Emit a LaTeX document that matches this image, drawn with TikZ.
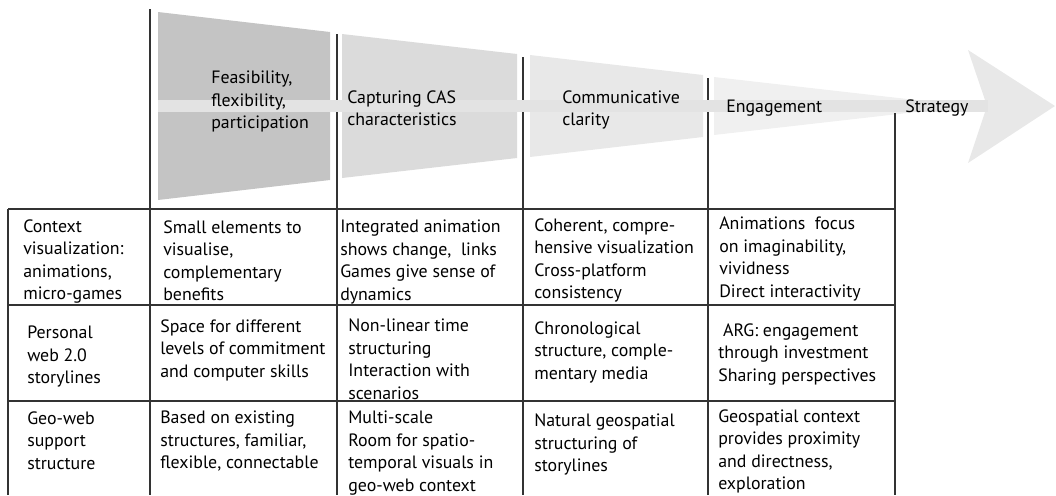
\documentclass[tikz,border=0pt]{standalone}
\usepackage{fontspec}
\setmainfont{PT Sans}
\begin{document}
\begin{tikzpicture}[x=0.025cm, y=-0.025cm,
		txt/.style={anchor=north west, align=left, inner sep=0pt, text=black,
			font=\fontsize{12.7pt}{16pt}\selectfont, execute at begin node=\strut},
		rule/.style={line width=1pt, color=black!80}]
		%%%%% START %%%%%
		\useasboundingbox (0, 0) rectangle (1056, 495);
		
		% tapering arrow, one slice per column
		\fill[black!23] (158, 12) -- (330, 32) -- (330, 180) -- (158, 200) -- cycle;
		\fill[black!14] (342, 34) -- (517, 54) -- (517, 158) -- (342, 178) -- cycle;
		\fill[black!9] (530, 55) -- (703, 75) -- (703, 137) -- (530, 157) -- cycle;
		\fill[black!6] (714, 77) -- (916, 100) -- (916, 112) -- (714, 135) -- cycle;
		\fill[black!9] (968, 50) -- (1055, 106) -- (968, 163) -- (987, 106) -- cycle;
		
		% table rules
		\draw[rule] (8, 209) -- (895, 209);
		\draw[rule] (8, 305) -- (895, 305);
		\draw[rule] (8, 401) -- (895, 401);
		\draw[rule] (8, 209) -- (8, 495);
		\draw[rule] (150, 9) -- (150, 495);
		\draw[rule] (337, 34) -- (337, 495);
		\draw[rule] (523, 57) -- (523, 495);
		\draw[rule] (708, 78) -- (708, 495);
		\draw[rule] (895, 113) -- (895, 495);
		
		% band over the rules
		\fill[black!11] (158, 100) rectangle (988, 112);
		
		% heads
		\node[txt] (feas) at (211, 71) {Feasibility,\\flexibility,\\participation};
		\node[txt] (cas) at (347, 90) {Capturing CAS\\characteristics};
		\node[txt] (clar) at (562, 90) {Communicative\\clarity};
		\node[txt] (engage) at (726, 96) {Engagement};
		\node[txt] (strat) at (905, 96) {Strategy};
		
		% row 1
		\node[txt] (ctx) at (23, 219) {Context\\visualization:\\animations,\\micro-games};
		\node[txt] (ctxfeas) at (163, 220) {Small elements to\\visualise,\\complementary\\benefits};
		\node[txt] (ctxcas) at (340, 220) {Integrated animation\\shows change,\ \ links\\Games give sense of\\dynamics};
		\node[txt] (ctxclar) at (534, 218) {Coherent, compre-\\hensive visualization\\Cross-platform\\consistency};
		\node[txt] (ctxengage) at (719, 217) {Animations\ \ focus\\on imaginability,\\vividness\\Direct interactivity};
		
		% row 2
		\node[txt] (pers) at (27, 326) {Personal\\web 2.0\\storylines};
		\node[txt] (persfeas) at (160, 319) {Space for different\\levels of commitment\\and computer skills};
		\node[txt] (perscas) at (348, 319) {Non-linear time\\structuring\\Interaction with\\scenarios};
		\node[txt] (persclar) at (534, 321) {Chronological\\structure, comple-\\mentary media};
		\node[txt] (persengage) at (718, 323) {\ ARG: engagement\\through investment\\Sharing perspectives};
		
		% row 3
		\node[txt] (geo) at (27, 411) {Geo-web\\support\\structure};
		\node[txt] (geofeas) at (160, 411) {Based on existing\\structures, familiar,\\flexible, connectable};
		\node[txt] (geocas) at (348, 411) {Multi-scale\\Room for spatio-\\temporal visuals in\\geo-web context};
		\node[txt] (geoclar) at (534, 414) {Natural geospatial\\structuring of\\storylines};
		\node[txt] (geoengage) at (718, 409) {Geospatial context\\provides proximity\\and directness,\\exploration};
		%%%%% END %%%%%
\end{tikzpicture}
\end{document}
